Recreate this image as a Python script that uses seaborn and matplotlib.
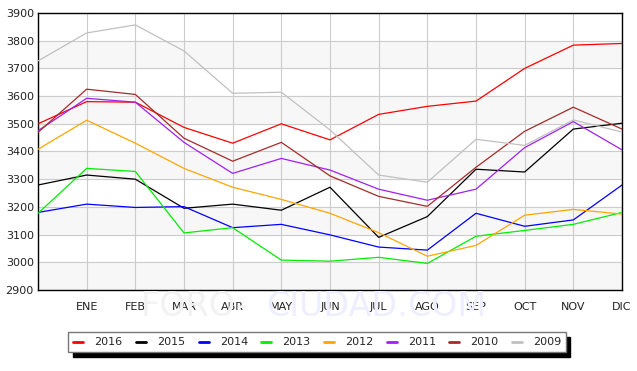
import pandas as pd
import matplotlib
matplotlib.use('Agg')
import matplotlib.pyplot as plt
import seaborn as sns

# months (first point is December of the previous year, left unlabelled)
months = ['', 'ENE', 'FEB', 'MAR', 'ABR', 'MAY', 'JUN', 'JUL', 'AGO', 'SEP', 'OCT', 'NOV', 'DIC']
years = ['2016', '2015', '2014', '2013', '2012', '2011', '2010', '2009']
colors = ['red', 'black', 'blue', '#00ee00', 'orange', '#a020f0', '#a52a2a', '#c0c0c0']

v2016 = [3500, 3580, 3578, 3487, 3430, 3500, 3442, 3534, 3563, 3582, 3700, 3784, 3790]
v2015 = [3279, 3315, 3300, 3195, 3210, 3188, 3271, 3090, 3165, 3336, 3326, 3481, 3502]
v2014 = [3180, 3210, 3198, 3201, 3125, 3137, 3099, 3055, 3044, 3177, 3130, 3153, 3279]
v2013 = [3177, 3339, 3328, 3106, 3125, 3008, 3004, 3018, 2996, 3094, 3115, 3137, 3180]
v2012 = [3408, 3513, 3430, 3339, 3271, 3227, 3177, 3107, 3022, 3061, 3170, 3191, 3174]
v2011 = [3475, 3592, 3578, 3433, 3321, 3375, 3333, 3264, 3224, 3264, 3414, 3508, 3406]
v2010 = [3469, 3625, 3606, 3448, 3365, 3433, 3312, 3238, 3202, 3343, 3473, 3560, 3481]
v2009 = [3727, 3828, 3857, 3763, 3610, 3614, 3478, 3315, 3289, 3444, 3422, 3514, 3470]

series = [v2016, v2015, v2014, v2013, v2012, v2011, v2010, v2009]

rows = []
for year, vals in zip(years, series):
    for i, v in enumerate(vals):
        rows.append({'pos': i, 'value': v, 'year': year})
df = pd.DataFrame(rows)

sns.set_style('white')
plt.rcParams['font.family'] = ['DejaVu Sans']

fig = plt.figure(figsize=(6.37, 3.71), dpi=100)
ax = fig.add_axes([38 / 637, 1 - 290 / 371, (622 - 38) / 637, (290 - 13) / 371])

# alternating bands
for lo in range(2900, 3900, 200):
    ax.axhspan(lo, lo + 100, color='#f7f7f7', zorder=0)

sns.lineplot(data=df, x='pos', y='value', hue='year', hue_order=years,
             palette=colors, linewidth=0.9, legend=False, ax=ax, zorder=3)

ax.set_xlim(0, 12)
ax.set_ylim(2900, 3900)
ax.set_xticks(range(13))
ax.set_xticklabels(months)
ax.set_yticks(range(2900, 3901, 100))
ax.grid(True, color='#cccccc', linewidth=0.8, zorder=1)
ax.set_axisbelow(True)
ax.set_xlabel('')
ax.set_ylabel('')
ax.tick_params(axis='both', length=0, labelsize=8, colors='#222222')
ax.tick_params(axis='x', pad=9)
ax.tick_params(axis='y', pad=3)
for s in ax.spines.values():
    s.set_color('black')
    s.set_linewidth(1.0)

# watermark
fig.text(0.305, 0.175, 'FORO-', fontsize=24, color='#f2f2f2', ha='center', va='center', zorder=0)
fig.text(0.59, 0.175, 'CIUDAD.COM', fontsize=24, color='#eeeeff', ha='center', va='center', zorder=0)

handles = [plt.Line2D([], [], color=c, linewidth=2) for c in colors]
leg = fig.legend(handles, years, loc='center', bbox_to_anchor=(0.498, 0.077), ncol=8,
                 fontsize=8, handlelength=0.9, handletextpad=1.0, columnspacing=1.2,
                 frameon=True, fancybox=False, borderpad=0.45,
                 shadow={'color': 'black', 'alpha': 1.0, 'ox': 3, 'oy': -3})
leg.get_frame().set_edgecolor('#777777')
leg.get_frame().set_linewidth(1.0)

fig.savefig('out.png', dpi=100)
